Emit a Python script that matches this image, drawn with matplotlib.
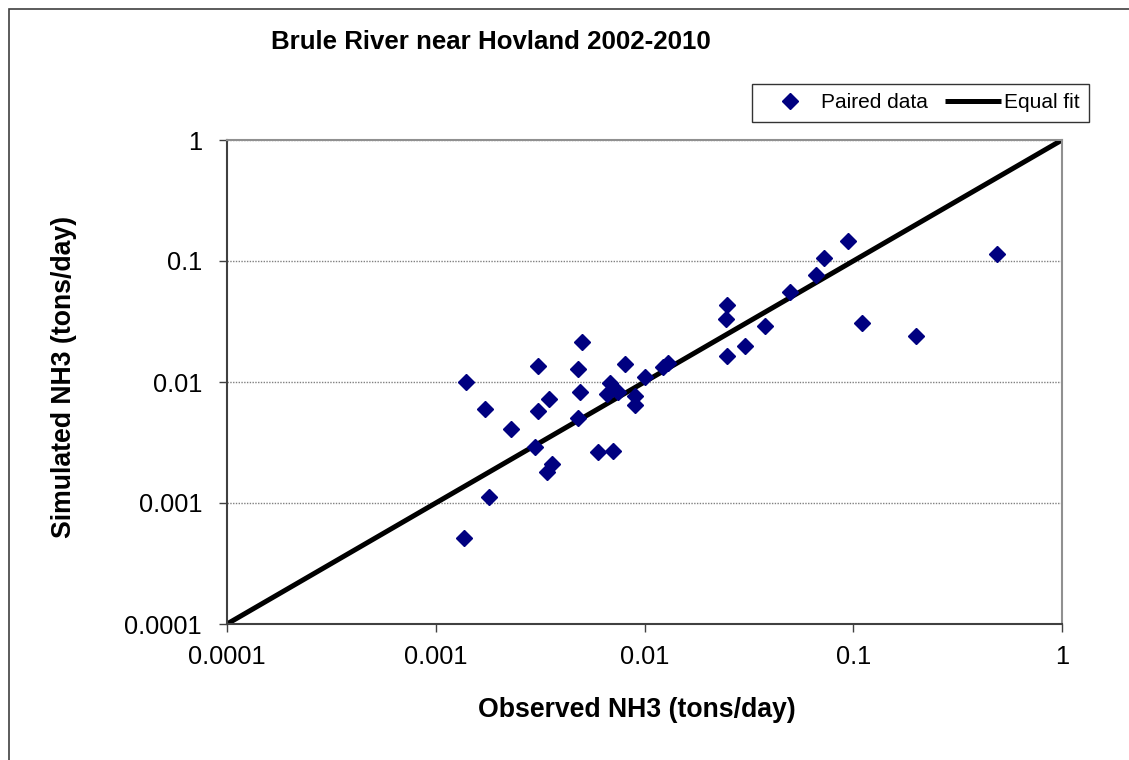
import matplotlib
matplotlib.use("Agg")
import matplotlib.pyplot as plt
from matplotlib.patches import Rectangle

plt.rcParams['font.family'] = ['Liberation Sans', 'DejaVu Sans']

# observed vs simulated NH3 loads (tons/day)
observed = [0.0014, 0.00173, 0.0023, 0.0018, 0.00137, 0.0031, 0.0031, 0.0030,
            0.0035, 0.0036, 0.0034, 0.0050, 0.0048, 0.0049, 0.0048, 0.0060,
            0.0071, 0.0081, 0.0068, 0.0066, 0.0075, 0.0090, 0.0090, 0.0100,
            0.0122, 0.0130, 0.0248, 0.0245, 0.0248, 0.0303, 0.0378, 0.050,
            0.066, 0.0725, 0.094, 0.110, 0.199, 0.49]
simulated = [0.0100, 0.0060, 0.0041, 0.00113, 0.00051, 0.0135, 0.0058, 0.0029,
             0.0072, 0.0021, 0.0018, 0.0213, 0.0127, 0.0082, 0.0050, 0.00265,
             0.0027, 0.0141, 0.0099, 0.0079, 0.0083, 0.0077, 0.0065, 0.0109,
             0.0134, 0.0143, 0.0433, 0.033, 0.0165, 0.0200, 0.0290, 0.0554,
             0.0766, 0.105, 0.146, 0.0306, 0.0241, 0.114]

equal_fit = [0.0001, 1]
tick_vals = [0.0001, 0.001, 0.01, 0.1, 1]
tick_labels = ['0.0001', '0.001', '0.01', '0.1', '1']

fig = plt.figure(figsize=(11.29, 7.6), dpi=100)
ax = fig.add_axes([227 / 1129, 1 - 624 / 760, 835 / 1129, 484 / 760])

ax.plot(observed, simulated, linestyle='none', marker='D', markersize=7.8,
        color='#000080', markeredgecolor='#000080', label='Paired data', zorder=3)
ax.plot(equal_fit, equal_fit, color='black', linewidth=3.6, label='Equal fit',
        zorder=2, solid_capstyle='butt')

ax.set_xscale('log')
ax.set_yscale('log')
ax.set_xlim(0.0001, 1)
ax.set_ylim(0.0001, 1)
ax.set_xticks(tick_vals, tick_labels)
ax.set_yticks(tick_vals, tick_labels)
ax.minorticks_off()
ax.tick_params(axis='both', direction='out', length=6, width=1, color='#404040',
               labelsize=18.3)
ax.tick_params(axis='y', pad=12)
ax.tick_params(axis='x', pad=9)

ax.yaxis.grid(True, linestyle=(0, (1, 1)), color='#808080', linewidth=1)
ax.set_axisbelow(True)

for side in ['left', 'bottom']:
    ax.spines[side].set_color('#404040')
    ax.spines[side].set_linewidth(1.5)
for side in ['top', 'right']:
    ax.spines[side].set_color('#909090')
    ax.spines[side].set_linewidth(1.5)

fig.text(491 / 1129, 1 - 42 / 760, 'Brule River near Hovland 2002-2010',
         ha='center', va='center', fontsize=18.6, fontweight='bold')
fig.text(637 / 1129, 1 - 710 / 760, 'Observed NH3 (tons/day)',
         ha='center', va='center', fontsize=19.2, fontweight='bold')
fig.text(64 / 1129, 1 - 377 / 760, 'Simulated NH3 (tons/day)',
         ha='center', va='center', rotation=90, fontsize=19.2, fontweight='bold')

leg = ax.legend(loc='upper right', bbox_to_anchor=(1089 / 1129, 1 - 84 / 760),
                bbox_transform=fig.transFigure, ncol=2, fontsize=15,
                frameon=True, fancybox=False, shadow=False, borderaxespad=0,
                handlelength=2.7, handletextpad=0.15, columnspacing=0.8,
                borderpad=0.45)
leg.get_frame().set_edgecolor('black')
leg.get_frame().set_linewidth(1)

# outer chart border
fig.patches.append(Rectangle((9 / 1129, -0.05), 1.2, 1 - 9 / 760 + 0.05,
                             transform=fig.transFigure, fill=False,
                             edgecolor='#404040', linewidth=1.2))

fig.savefig('out.png', dpi=100)
